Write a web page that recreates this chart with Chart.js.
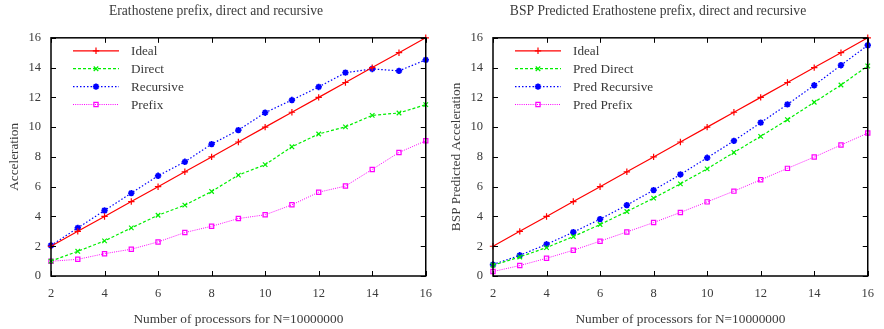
<!DOCTYPE html>
<html>
<head>
<meta charset="utf-8">
<script src="https://cdn.jsdelivr.net/npm/chart.js@4"></script>
<style>
  body { margin: 0; background: #fff; }
  .wrap { display: flex; width: 884px; height: 329px; }
  .box { position: relative; width: 442px; height: 329px; }
</style>
</head>
<body>
<div class="wrap">
  <div class="box"><canvas id="left"></canvas></div>
  <div class="box"><canvas id="right"></canvas></div>
</div>
<script>
// processors
var procs = [2, 3, 4, 5, 6, 7, 8, 9, 10, 11, 12, 13, 14, 15, 16];
var ideal = [2, 3, 4, 5, 6, 7, 8, 9, 10, 11, 12, 13, 14, 15, 16];

// measured
var direct    = [1.0, 1.66, 2.36, 3.23, 4.08, 4.76, 5.68, 6.78, 7.48, 8.68, 9.54, 10.02, 10.79, 10.95, 11.51];
var recursive = [2.05, 3.23, 4.4, 5.57, 6.73, 7.67, 8.86, 9.8, 10.97, 11.82, 12.7, 13.66, 13.91, 13.78, 14.52];
var prefix    = [0.99, 1.12, 1.5, 1.8, 2.29, 2.92, 3.34, 3.86, 4.11, 4.78, 5.63, 6.04, 7.16, 8.3, 9.08];

// BSP predicted
var predDirect    = [0.72, 1.28, 1.91, 2.65, 3.46, 4.33, 5.23, 6.19, 7.2, 8.3, 9.38, 10.5, 11.67, 12.83, 14.11];
var predRecursive = [0.77, 1.39, 2.13, 2.94, 3.82, 4.76, 5.77, 6.82, 7.94, 9.08, 10.3, 11.53, 12.81, 14.16, 15.5];
var predPrefix    = [0.3, 0.7, 1.19, 1.73, 2.34, 2.96, 3.59, 4.27, 4.98, 5.7, 6.46, 7.23, 7.99, 8.8, 9.6];

var xTicks = [2, 4, 6, 8, 10, 12, 14, 16];
var yTicks = [0, 2, 4, 6, 8, 10, 12, 14, 16];

var FONT = "'Liberation Serif', 'DejaVu Serif', serif";
var TXT = '#3a3a3a';

function pts(ys) {
  return ys.map(function (y, i) { return { x: procs[i], y: y }; });
}

function series(label, ys, color, dash, style, width) {
  return {
    label: label,
    data: pts(ys),
    borderColor: color,
    backgroundColor: 'rgba(0,0,0,0)',
    borderWidth: width || 1.2,
    borderDash: dash,
    pointStyle: style,
    pointRadius: style === 'rect' ? 3 : 3.2,
    pointBorderColor: color,
    pointBackgroundColor: 'rgba(0,0,0,0)',
    pointBorderWidth: style === 'star' ? 1.8 : 1.2,
    tension: 0,
    clip: false
  };
}

// gnuplot style frame: box + inward ticks on all four sides
var framePlugin = {
  id: 'frame',
  afterDatasetsDraw: function (chart) {
    var ctx = chart.ctx, a = chart.chartArea;
    var xs = chart.scales.x, ys = chart.scales.y;
    ctx.save();
    ctx.strokeStyle = '#000';
    ctx.lineWidth = 1;
    ctx.beginPath();
    xs.ticks.forEach(function (t) {
      var px = Math.round(xs.getPixelForValue(t.value)) + 0.5;
      ctx.moveTo(px, a.bottom); ctx.lineTo(px, a.bottom - 5);
      ctx.moveTo(px, a.top); ctx.lineTo(px, a.top + 5);
    });
    ys.ticks.forEach(function (t) {
      var py = Math.round(ys.getPixelForValue(t.value)) + 0.5;
      ctx.moveTo(a.left, py); ctx.lineTo(a.left + 5, py);
      ctx.moveTo(a.right, py); ctx.lineTo(a.right - 5, py);
    });
    ctx.stroke();
    ctx.lineWidth = 1.5;
    ctx.strokeRect(a.left, a.top, a.right - a.left, a.bottom - a.top);
    ctx.restore();
  }
};

// legend inside the plot, top left, with line sample and marker
var keyPlugin = {
  id: 'key',
  afterDatasetsDraw: function (chart) {
    var ctx = chart.ctx, a = chart.chartArea;
    var x0 = a.left + 22, x1 = a.left + 68, tx = a.left + 80;
    ctx.save();
    chart.data.datasets.forEach(function (ds, i) {
      var y = a.top + 13 + i * 17.9;
      ctx.strokeStyle = ds.borderColor;
      ctx.lineWidth = ds.borderWidth;
      ctx.setLineDash(ds.borderDash || []);
      ctx.beginPath();
      ctx.moveTo(x0, y); ctx.lineTo(x1, y);
      ctx.stroke();
      ctx.setLineDash([]);
      if (Chart.helpers && Chart.helpers.drawPoint) {
        ctx.fillStyle = 'rgba(0,0,0,0)';
        ctx.strokeStyle = ds.borderColor;
        ctx.lineWidth = ds.pointBorderWidth;
        Chart.helpers.drawPoint(ctx, {
          pointStyle: ds.pointStyle,
          radius: ds.pointRadius,
          borderWidth: ds.pointBorderWidth,
          rotation: 0
        }, (x0 + x1) / 2, y);
      }
      ctx.fillStyle = TXT;
      ctx.font = '13.2px ' + FONT;
      ctx.textBaseline = 'middle';
      ctx.textAlign = 'left';
      ctx.fillText(ds.label, tx, y + 1);
    });
    ctx.restore();
  }
};

function makeChart(id, title, yTitle, sets) {
  return new Chart(document.getElementById(id), {
    type: 'line',
    data: { datasets: sets },
    plugins: [framePlugin, keyPlugin],
    options: {
      responsive: true,
      maintainAspectRatio: false,
      animation: false,
      layout: { padding: { left: 0, right: 10, top: 0, bottom: 0 } },
      plugins: {
        legend: { display: false },
        tooltip: { enabled: false },
        title: {
          display: true,
          text: title,
          color: TXT,
          font: { family: FONT, size: 13.6, weight: 'normal' },
          padding: { top: 3, bottom: 18.5 }
        }
      },
      scales: {
        x: {
          type: 'linear',
          min: 2, max: 16,
          afterBuildTicks: function (s) { s.ticks = xTicks.map(function (v) { return { value: v }; }); },
          afterFit: function (s) { s.height = 53; },
          grid: { display: false, drawTicks: false },
          border: { display: false },
          ticks: { color: TXT, padding: 10, maxRotation: 0, font: { family: FONT, size: 12.5 } },
          title: {
            display: true,
            text: 'Number of processors for N=10000000',
            color: TXT,
            font: { family: FONT, size: 13.3 },
            padding: { top: 0, bottom: 2 }
          }
        },
        y: {
          min: 0, max: 16,
          afterBuildTicks: function (s) { s.ticks = yTicks.map(function (v) { return { value: v }; }); },
          afterFit: function (s) { s.width = 51; },
          grid: { display: false, drawTicks: false },
          border: { display: false },
          ticks: { color: TXT, padding: 10, font: { family: FONT, size: 12.5 } },
          title: {
            display: true,
            text: yTitle,
            color: TXT,
            font: { family: FONT, size: 13.3 },
            padding: { top: 7, bottom: 0 }
          }
        }
      }
    }
  });
}

makeChart('left', 'Erathostene prefix, direct and recursive', 'Acceleration', [
  series('Ideal', ideal, '#ff0000', [], 'cross'),
  series('Direct', direct, '#00ee00', [3, 2], 'crossRot'),
  series('Recursive', recursive, '#0000ff', [1.5, 2], 'star'),
  series('Prefix', prefix, '#ff00ff', [1, 1.2], 'rect', 1)
]);

makeChart('right', 'BSP Predicted Erathostene prefix, direct and recursive', 'BSP Predicted Acceleration', [
  series('Ideal', ideal, '#ff0000', [], 'cross'),
  series('Pred Direct', predDirect, '#00ee00', [3, 2], 'crossRot'),
  series('Pred Recursive', predRecursive, '#0000ff', [1.5, 2], 'star'),
  series('Pred Prefix', predPrefix, '#ff00ff', [1, 1.2], 'rect', 1)
]);
</script>
</body>
</html>
